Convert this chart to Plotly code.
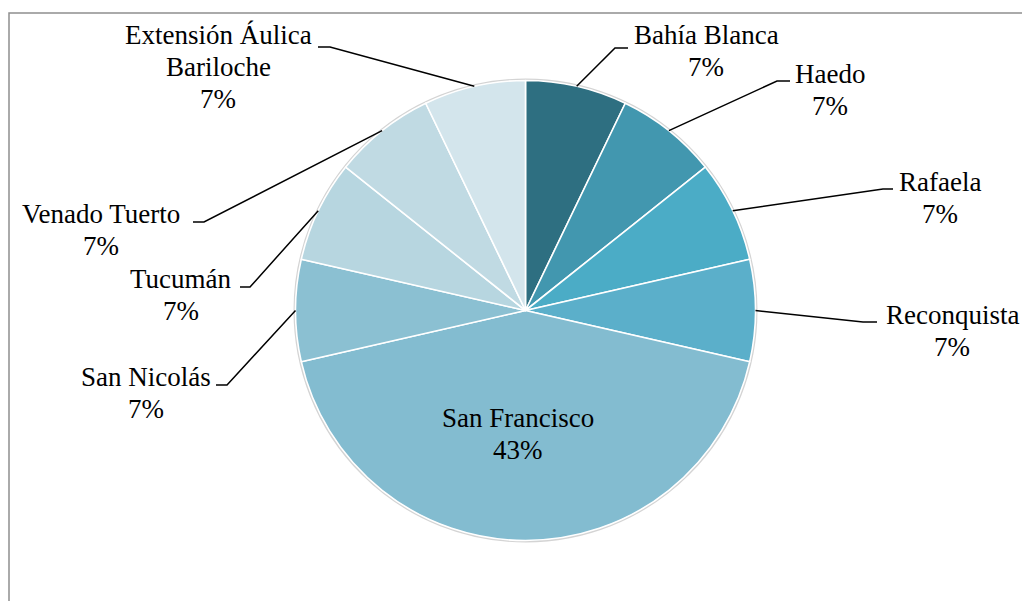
import math
import plotly.graph_objects as go

# ---- data ----
labels = ["Bahía Blanca", "Haedo", "Rafaela", "Reconquista", "San Francisco",
          "San Nicolás", "Tucumán", "Venado Tuerto", "Extensión Áulica Bariloche"]
label_lines = [["Bahía Blanca"], ["Haedo"], ["Rafaela"], ["Reconquista"], ["San Francisco"],
               ["San Nicolás"], ["Tucumán"], ["Venado Tuerto"], ["Extensión Áulica", "Bariloche"]]
values = [1, 1, 1, 1, 6, 1, 1, 1, 1]
colors = ["#2E6F81", "#4297AF", "#4BACC6", "#5BAFCA", "#83BCD0",
          "#8BC0D2", "#B7D6E0", "#C0DAE3", "#D3E5EC"]

W, H = 1030, 601
OFF = 8  # page body margin compensation
CX, CY, R = 525.5, 310.5, 230.0
FONT = "Liberation Serif"
FS = 27
LINE_H = 32


def px(x):
    return (x - OFF) / W


def py(y):
    return 1 - (y - OFF) / H


fig = go.Figure(go.Pie(
    labels=labels, values=values, sort=False, direction="clockwise", rotation=0,
    marker=dict(colors=colors, line=dict(color="white", width=1.6)),
    textinfo="none", hoverinfo="label+percent", showlegend=False,
    domain=dict(x=[px(CX - R), px(CX + R)], y=[py(CY + R), py(CY - R)]),
))

total = sum(values)
pcts = [round(100 * v / total) for v in values]

# label layout: (elbow x, elbow y, hook end x, text center x, first line center y)
layout_pos = {
    "Bahía Blanca": (615, 48, 628, 706, 35),
    "Haedo": (777, 81, 790, 830, 74),
    "Rafaela": (883, 189, 893, 940, 182),
    "Reconquista": (863, 322, 877, 952, 315),
    "San Francisco": (None, None, None, 518, 418),
    "San Nicolás": (227, 385, 216, 146, 377),
    "Tucumán": (250, 287, 240, 181, 279),
    "Venado Tuerto": (204, 222, 193, 101, 214),
    "Extensión Áulica Bariloche": (330, 47, 318, 218, 35),
}

shapes = []
annotations = []
# subtle outline around pie
shapes.append(dict(type="circle", xref="paper", yref="paper", layer="below",
                   x0=px(CX - R - 1), x1=px(CX + R + 1), y0=py(CY + R + 1), y1=py(CY - R - 1),
                   line=dict(color="#d4d4d4", width=2), fillcolor="rgba(0,0,0,0)"))

cum = 0
for lab, lines, v, p in zip(labels, label_lines, values, pcts):
    mid = (cum + v / 2) / total * 2 * math.pi
    cum += v
    ex, ey, hx, tx, ty = layout_pos[lab]
    if ex is not None:
        sx = CX + R * math.sin(mid)
        sy = CY - R * math.cos(mid)
        shapes.append(dict(type="path", xref="paper", yref="paper",
                           path=f"M {px(sx)},{py(sy)} L {px(ex)},{py(ey)} L {px(hx)},{py(ey)}",
                           line=dict(color="black", width=1.5)))
    for i, t in enumerate(lines + [f"{p}%"]):
        annotations.append(dict(x=px(tx), y=py(ty + i * LINE_H), xref="paper", yref="paper",
                                text=t, showarrow=False, xanchor="center", yanchor="middle",
                                font=dict(family=FONT, size=FS, color="black")))

# chart border
shapes.append(dict(type="rect", xref="paper", yref="paper",
                   x0=px(9), x1=px(1060), y0=py(640), y1=py(13),
                   line=dict(color="#8f8f8f", width=1.5), fillcolor="rgba(0,0,0,0)"))

fig.update_layout(width=W, height=H, margin=dict(l=0, r=0, t=0, b=0),
                  paper_bgcolor="white", plot_bgcolor="white",
                  shapes=shapes, annotations=annotations)

fig.write_html("out.html")
